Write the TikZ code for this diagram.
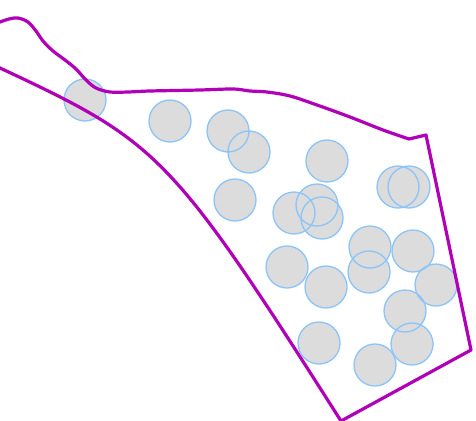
\documentclass[tikz,border=0pt]{standalone}
\begin{document}
\begin{tikzpicture}[x=1pt,y=-1pt]
\definecolor{boundary}{HTML}{B000B8}
\definecolor{ringblue}{HTML}{8CC4F8}
\definecolor{discgray}{HTML}{DCDCDC}
\tikzset{
  boundaryline/.style={draw=boundary,line width=3.2pt,line join=round,line cap=round},
  discfill/.style={fill=discgray},
  discring/.style={draw=ringblue,line width=1.3pt}
}
\useasboundingbox (0,0) rectangle (476,420);
\clip (0,0) rectangle (476,420);
\def\discs{85/100,170/121,228/131,249/152,327/161,235/200,294/213,317/205,322/218,398/187,409/187,370/247,413/251,287/267,326/287,369/272,436/285,405/311,412/344,319/343,375/365}
\foreach \px/\py in \discs {\fill[discfill] (\px,\py) circle (21);}
\foreach \px/\py in \discs {\draw[discring] (\px,\py) circle (21);}
\draw[boundaryline]
  plot[smooth,tension=0.55] coordinates {(-12,26) (0,22) (9,19) (18,18) (28,22) (36,31) (43,41) (53,51) (65,60) (76,69) (86,80) (96,88) (110,92) (128,92) (150,91) (200,90) (233,89) (250,91) (267,92) (290,96) (317,105) (350,117) (383,130) (409,139)}
  -- (426,135) -- (471,350) -- (341,421)
  .. controls (170,152) and (158,142) .. (0,68) -- (-12,62.6);
\end{tikzpicture}
\end{document}
